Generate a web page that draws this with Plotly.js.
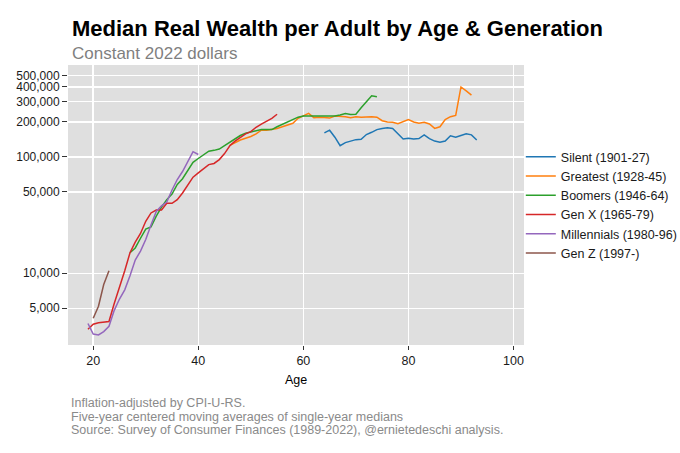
<!DOCTYPE html>
<html>
<head>
<meta charset="utf-8">
<script src="https://cdn.plot.ly/plotly-3.0.1.min.js"></script>
<style>html,body{margin:0;padding:0;background:#fff;}#chart{width:680px;height:453px;}</style>
</head>
<body>
<div id="chart"></div>
<script>
// ---- Data ----
const seriesNames = ["Silent (1901-27)", "Greatest (1928-45)", "Boomers (1946-64)", "Gen X (1965-79)", "Millennials (1980-96)", "Gen Z (1997-)"];
const seriesColors = ["#1f77b4", "#ff7f0e", "#2ca02c", "#d62728", "#9467bd", "#8c564b"];

const silentStartAge = 64;
const silentValues = [161000, 170000, 148000, 125000, 133000, 138000, 141000, 142000, 156000, 163000, 172000, 176000, 178000, 176000, 160000, 143000, 145000, 143000, 144000, 155000, 144000, 137000, 134000, 137000, 152000, 148000, 153000, 158000, 155000, 140000];

const greatestStartAge = 46;
const greatestValues = [126000, 133000, 140000, 145000, 150000, 158000, 170000, 170000, 172000, 176000, 182000, 188000, 195000, 215000, 225000, 237000, 218000, 220000, 218000, 216000, 225000, 224000, 222000, 218000, 222000, 220000, 222000, 222000, 220000, 205000, 200000, 199000, 193000, 200000, 210000, 200000, 195000, 199000, 192000, 176000, 182000, 210000, 222000, 228000, 400000, 370000, 340000];

const boomersStartAge = 27;
const boomersValues = [15000, 16500, 20000, 24000, 25000, 31000, 37000, 43000, 48000, 58000, 65000, 77000, 90000, 97000, 105000, 112000, 114000, 117000, 125000, 134000, 145000, 153000, 160000, 164000, 166000, 172000, 172000, 172000, 182000, 191000, 200000, 208000, 220000, 225000, 225000, 222000, 222000, 222000, 222000, 225000, 230000, 236000, 232000, 233000, 265000, 300000, 336000, 330000];

const genXStartAge = 19;
const genXValues = [3300, 3650, 3750, 3800, 3850, 5500, 7500, 10500, 15000, 18500, 22000, 28000, 33000, 35000, 35000, 40000, 40000, 43000, 49000, 57000, 67000, 73000, 80000, 86000, 88000, 95000, 107000, 125000, 137000, 148000, 158000, 165000, 180000, 192000, 202000, 215000, 233000];

const millennialsStartAge = 19;
const millennialsValues = [3700, 3000, 2950, 3150, 3500, 4800, 6000, 7200, 9500, 13000, 15500, 19500, 26000, 34000, 38000, 41000, 52000, 64000, 75000, 92000, 111000, 105000];

const genZStartAge = 20;
const genZValues = [4100, 5200, 8000, 10500];

const xTickVals = [20, 40, 60, 80, 100];
const yTickVals = [5000, 10000, 50000, 100000, 200000, 300000, 400000, 500000];
const yTickText = ["5,000", "10,000", "50,000", "100,000", "200,000", "300,000", "400,000", "500,000"];

const titleText = "Median Real Wealth per Adult by Age & Generation";
const subtitleText = "Constant 2022 dollars";
const xTitleText = "Age";
const captionLines = [
  "Inflation-adjusted by CPI-U-RS.",
  "Five-year centered moving averages of single-year medians",
  "Source: Survey of Consumer Finances (1989-2022), @ernietedeschi analysis."
];

// ---- Build traces ----
function ages(start, vals) { return vals.map((_, i) => start + i); }
const seriesData = [
  [silentStartAge, silentValues],
  [greatestStartAge, greatestValues],
  [boomersStartAge, boomersValues],
  [genXStartAge, genXValues],
  [millennialsStartAge, millennialsValues],
  [genZStartAge, genZValues]
];
const traces = seriesData.map((s, i) => ({
  type: "scatter",
  mode: "lines",
  name: seriesNames[i],
  x: ages(s[0], s[1]),
  y: s[1],
  line: {color: seriesColors[i], width: 1.5},
  hoverinfo: "x+y+name"
}));

const FONT = "Liberation Sans, Arial, sans-serif";

const annotations = [
  {text: "<b>" + titleText.replace("&", "&amp;") + "</b>", xref: "paper", yref: "paper", x: 0, y: 1, xanchor: "left", yanchor: "middle",
   xshift: 2, yshift: 37, showarrow: false, font: {family: FONT, size: 22, color: "#000"}},
  {text: subtitleText, xref: "paper", yref: "paper", x: 0, y: 1, xanchor: "left", yanchor: "middle",
   xshift: 2, yshift: 12, showarrow: false, font: {family: FONT, size: 17, color: "#7f7f7f"}}
];
captionLines.forEach((t, i) => {
  annotations.push({text: t, xref: "paper", yref: "paper", x: 0, y: 0, xanchor: "left", yanchor: "middle",
    xshift: 1, yshift: -58 - i * 13.6, showarrow: false, font: {family: FONT, size: 12.5, color: "#8a8a8a"}});
});

const layout = {
  width: 680, height: 453,
  margin: {l: 68, r: 156, t: 65, b: 108, autoexpand: false},
  paper_bgcolor: "#ffffff",
  plot_bgcolor: "#dfdfdf",
  font: {family: FONT, size: 12, color: "#1a1a1a"},
  showlegend: true,
  legend: {x: 0.993, xanchor: "left", y: 0.5, yanchor: "middle", bgcolor: "rgba(0,0,0,0)",
           font: {family: FONT, size: 12.5, color: "#1a1a1a"}, itemwidth: 30, tracegroupgap: 0},
  xaxis: {
    range: [15.2, 102], tickvals: xTickVals, ticks: "outside", ticklen: 4, tickcolor: "#333",
    showgrid: true, gridcolor: "#ffffff", gridwidth: 1.5, zeroline: false, showline: false,
    tickfont: {family: FONT, size: 12.5, color: "#1a1a1a"},
    title: {text: xTitleText, font: {family: FONT, size: 12.5, color: "#000"}, standoff: 8}
  },
  yaxis: {
    type: "log", range: [3.383, 5.791], tickvals: yTickVals, ticktext: yTickText,
    ticks: "outside", ticklen: 5, tickcolor: "#333",
    showgrid: true, gridcolor: "#ffffff", gridwidth: 1.5, zeroline: false, showline: false,
    tickfont: {family: FONT, size: 12, color: "#1a1a1a"}
  },
  annotations: annotations
};

Plotly.newPlot("chart", traces, layout, {displayModeBar: false, staticPlot: true});
</script>
</body>
</html>
